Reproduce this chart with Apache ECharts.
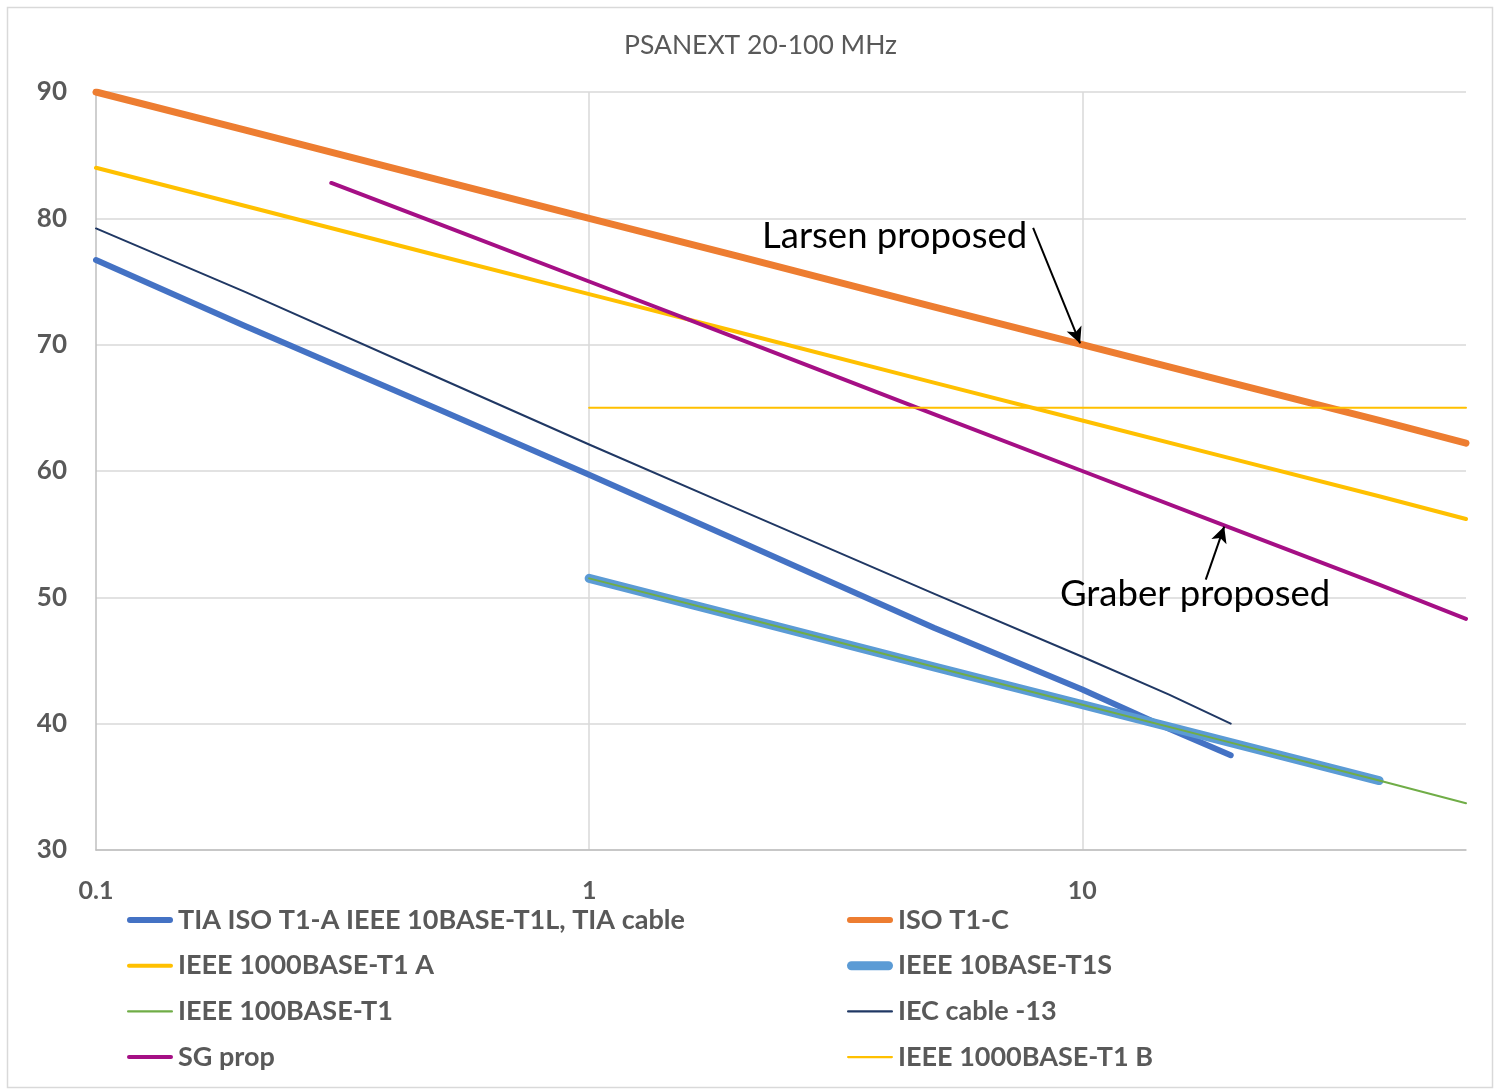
<!DOCTYPE html>
<html>
<head>
<meta charset="utf-8">
<script src="https://cdn.jsdelivr.net/npm/echarts@6/dist/echarts.min.js"></script>
<style>
html,body{margin:0;padding:0;background:#fff;}
#main{width:1495px;height:1089px;}
</style>
</head>
<body>
<div id="main"></div>
<script>
// ---- data (frequency MHz, PSANEXT dB) ----
var tiaX = [0.1, 0.2, 0.5, 1, 2, 5, 10, 15, 20];
var tiaY = [76.7, 71.5, 64.8, 59.7, 54.5, 47.6, 42.7, 39.6, 37.5];

var isoX = [0.1, 0.2, 0.5, 1, 2, 5, 10, 20, 40, 60];
var isoY = [90, 87, 83, 80, 77, 73, 70, 67, 64, 62.2];

var gA_X = [0.1, 0.2, 0.5, 1, 2, 5, 10, 20, 40, 60];
var gA_Y = [84, 81, 77, 74, 71, 67, 64, 61, 58, 56.2];

var t1sX = [1, 2, 5, 10, 20, 40];
var t1sY = [51.5, 48.5, 44.5, 41.5, 38.5, 35.5];

var t100X = [1, 2, 5, 10, 20, 40, 60];
var t100Y = [51.5, 48.5, 44.5, 41.5, 38.5, 35.5, 33.7];

var iecX = [0.1, 0.2, 0.5, 1, 2, 5, 10, 15, 20];
var iecY = [79.2, 74.2, 67.3, 62.1, 57.0, 50.3, 45.3, 42.3, 40.0];

var sgX = [0.3, 0.5, 1, 2, 5, 10, 20, 40, 60];
var sgY = [82.8, 79.5, 75, 70.5, 64.5, 60, 55.5, 51, 48.3];

var gB_X = [1, 60];
var gB_Y = [65, 65];

var names = [
  'TIA ISO T1-A IEEE 10BASE-T1L, TIA cable',
  'ISO T1-C',
  'IEEE 1000BASE-T1 A',
  'IEEE 10BASE-T1S',
  'IEEE 100BASE-T1',
  'IEC cable -13',
  'SG prop',
  'IEEE 1000BASE-T1 B'
];
var xTicks = [0.1, 1, 10];
var yTicks = [30, 40, 50, 60, 70, 80, 90];

function pairs(xs, ys){ return xs.map(function(x,i){ return [x, ys[i]]; }); }

var colors = ['#4472C4','#ED7D31','#FFC000','#5B9BD5','#70AD47','#203864','#A50F85','#FFC000'];
var widths = [6, 7, 4, 9, 2, 2, 4, 2];
var dataSets = [pairs(tiaX,tiaY), pairs(isoX,isoY), pairs(gA_X,gA_Y), pairs(t1sX,t1sY),
                pairs(t100X,t100Y), pairs(iecX,iecY), pairs(sgX,sgY), pairs(gB_X,gB_Y)];

function iconPath(h){
  var r = h/2, w = 46;
  return 'path://M' + r + ',0 L' + (w-r) + ',0 A' + r + ',' + r + ' 0 0 1 ' + (w-r) + ',' + h +
         ' L' + r + ',' + h + ' A' + r + ',' + r + ' 0 0 1 ' + r + ',0 Z';
}
var iconH = [6, 6, 4, 9, 2.2, 2.2, 4, 2.2];

var series = names.map(function(n, i){
  return {
    name: n, type: 'line', data: dataSets[i], showSymbol: false, symbol: 'none',
    smooth: false, silent: true,
    lineStyle: { color: colors[i], width: widths[i], cap: 'round', join: 'round' },
    itemStyle: { color: colors[i] }
  };
});
// annotation arrows in data coordinates
series[1].markLine = {
  silent: true, symbol: ['none', 'arrow'], symbolSize: [12, 16], z: 10,
  label: { show: false },
  lineStyle: { color: '#000', width: 2, type: 'solid' },
  data: [
    [{ coord: [7.95, 79.25] }, { coord: [9.9, 70.1] }],
    [{ coord: [17.8, 51.4] }, { coord: [19.4, 55.6] }]
  ]
};

function legendData(idx){
  return idx.map(function(i){
    return { name: names[i], icon: iconPath(iconH[i]), itemStyle: { color: colors[i] } };
  });
}
var legendText = { fontFamily: 'Lato', fontWeight: 'bold', fontSize: 27, color: '#595959', lineHeight: 30 };

var chart = echarts.init(document.getElementById('main'), null, { renderer: 'canvas' });
chart.setOption({
  animation: false,
  backgroundColor: '#ffffff',
  title: {
    text: 'PSANEXT 20-100 MHz', left: 619, top: 27,
    textStyle: { fontFamily: 'Lato', fontWeight: 'normal', fontSize: 26.5, color: '#595959' }
  },
  grid: { left: 96, top: 92, right: 29, bottom: 239, containLabel: false },
  legend: [
    { orient: 'vertical', left: 127, top: 905, padding: 0, itemWidth: 46, itemHeight: 12, itemGap: 15.7,
      selectedMode: false, textStyle: legendText, data: legendData([0, 2, 4, 6]) },
    { orient: 'vertical', left: 847, top: 905, padding: 0, itemWidth: 46, itemHeight: 12, itemGap: 15.7,
      selectedMode: false, textStyle: legendText, data: legendData([1, 3, 5, 7]) }
  ],
  xAxis: {
    type: 'log', logBase: 10, min: 0.1, max: 60,
    axisLine: { show: true, lineStyle: { color: '#BFBFBF', width: 1.5 } },
    axisTick: { show: false },
    splitLine: { show: true, showMinLine: false, showMaxLine: false, lineStyle: { color: '#D9D9D9', width: 1.5 } },
    axisLabel: {
      showMaxLabel: false, margin: 28,
      fontFamily: 'Lato', fontWeight: 'bold', fontSize: 25, color: '#595959',
      formatter: function(v){
        for (var k = 0; k < xTicks.length; k++) {
          if (Math.abs(v - xTicks[k]) < 1e-9 * xTicks[k] + 1e-12) return String(xTicks[k]);
        }
        return '';
      }
    }
  },
  yAxis: {
    type: 'value', min: yTicks[0], max: yTicks[yTicks.length-1], interval: 10,
    axisLine: { show: true, lineStyle: { color: '#BFBFBF', width: 1.5 } },
    axisTick: { show: false },
    splitLine: { show: true, lineStyle: { color: '#D9D9D9', width: 1.5 } },
    axisLabel: { margin: 29, fontFamily: 'Lato', fontWeight: 'bold', fontSize: 26, color: '#595959' }
  },
  graphic: [
    { type: 'rect', left: 5, top: 5, shape: { width: 1485, height: 1080 }, silent: true, z: -10,
      style: { fill: 'none', stroke: '#D9D9D9', lineWidth: 1.5 } },
    { type: 'text', left: 762, top: 218, silent: true, z: 100,
      style: { text: 'Larsen proposed', fontFamily: 'Lato', fontSize: 36.5, fill: '#000' } },
    { type: 'text', left: 1060, top: 576, silent: true, z: 100,
      style: { text: 'Graber proposed', fontFamily: 'Lato', fontSize: 36.5, fill: '#000' } }
  ],
  series: series
});
</script>
</body>
</html>
